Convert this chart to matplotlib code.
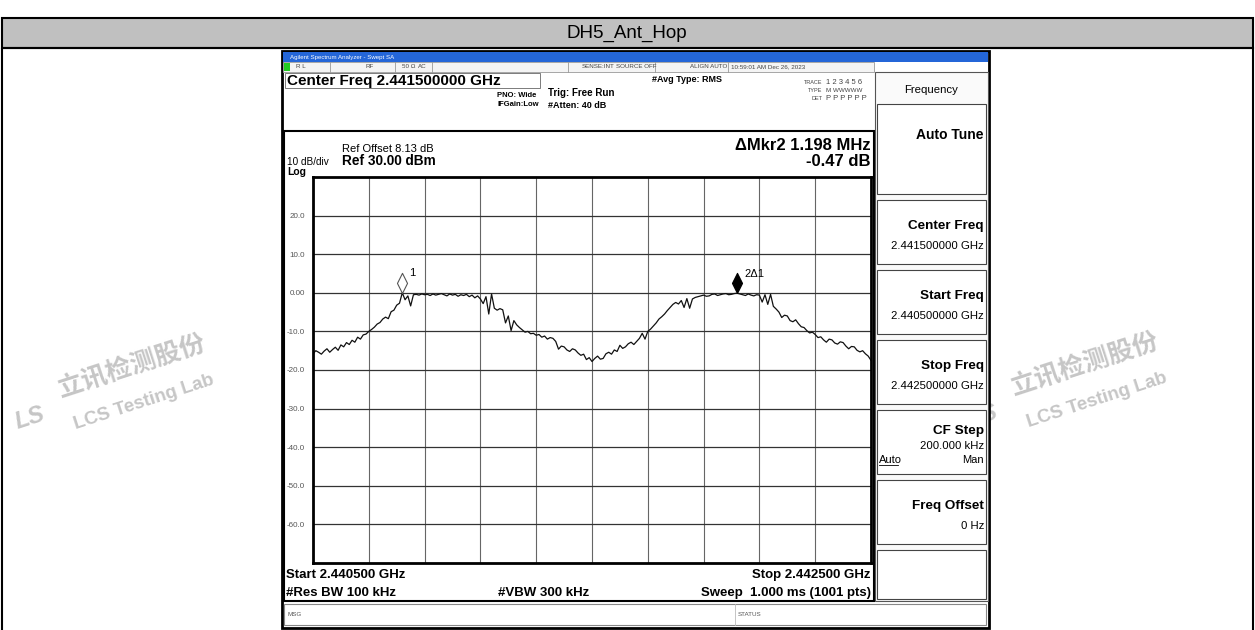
import numpy as np
import matplotlib
matplotlib.use("Agg")
import matplotlib.pyplot as plt
from matplotlib.patches import Rectangle

plt.rcParams["font.family"] = ["Liberation Sans", "DejaVu Sans"]

# spectrum analyser setup
start_mhz = 2440.5
stop_mhz = 2442.5
ref_level = 30.0
db_per_div = 10.0
y_ticks = [20, 10, 0, -10, -20, -30, -40, -50, -60]
y_tick_labels = ["20.0", "10.0", "0.00", "-10.0", "-20.0", "-30.0", "-40.0", "-50.0", "-60.0"]

# trace, one value every 0.05 division
trace_db = [
    -15.8, -15.0, -15.4, -15.9, -15.1, -14.5, -15.4, -14.7, -14.1, -14.9,
    -13.5, -14.0, -12.9, -13.4, -12.3, -12.8, -11.5, -12.0, -10.9, -10.7,
    -10.0, -9.5, -8.9, -8.1, -7.7, -6.8, -6.3, -6.7, -4.9, -4.5,
    -3.2, -2.7, 0.0, -1.8, -0.8, -3.4, -0.5, -0.4, -0.6, -0.3,
    -0.5, -0.4, -0.7, -0.3, -0.6, -0.4, -0.2, -0.5, -0.8, -0.3,
    -0.6, -0.4, -0.9, -0.5, -0.7, -0.4, -1.0, -0.6, -1.3, -0.8,
    -1.6, -2.8, -1.0, -5.5, -0.3, -4.0, -4.5, -4.1, -4.4, -7.8,
    -6.0, -9.8, -7.2, -8.3, -9.0, -9.6, -10.2, -10.0, -10.6, -10.5,
    -11.0, -10.8, -11.5, -11.2, -12.0, -11.6, -11.8, -12.6, -14.6, -13.8,
    -14.0, -14.8, -15.2, -14.5, -14.8, -15.6, -16.2, -15.9, -17.3, -16.8,
    -17.8, -17.0, -16.4, -17.2, -17.0, -15.8, -15.4, -15.9, -14.8, -15.2,
    -13.6, -14.4, -14.0, -13.2, -12.8, -13.4, -12.6, -11.8, -10.5, -12.0,
    -10.0, -9.4, -8.6, -7.8, -6.8, -6.2, -5.5, -4.6, -3.8, -3.0,
    -2.5, -2.9, -2.0, -3.8, -1.5, -4.0, -1.6, -1.2, -1.0, -0.8,
    -0.6, -0.9, -0.8, -0.4, -0.3, -0.7, -0.5, -0.3, -0.2, -0.5,
    -0.4, -0.2, -0.1, -0.3, -0.5, -0.7, -0.3, -0.6, -0.8, -0.5,
    -0.6, -2.4, -0.5, -3.0, -0.4, -3.5, -4.2, -5.0, -6.4, -5.8,
    -6.0, -7.2, -7.5, -7.0, -8.0, -8.8, -9.0, -9.8, -10.4, -10.2,
    -10.8, -11.6, -11.4, -12.2, -12.8, -12.0, -12.2, -13.0, -13.3, -12.7,
    -12.9, -13.8, -14.5, -13.9, -14.0, -14.9, -15.3, -15.0, -15.8, -16.4,
    -17.5,
]

# markers (MHz, dB)
mkr1 = (2440.82, 0.0)
mkr2 = (2442.02, -0.1)

fig = plt.figure(figsize=(12.55, 6.3), dpi=100)

# background axes in pixel coordinates for the report table and the screenshot frame
bg = fig.add_axes([0, 0, 1, 1])
bg.set_xlim(0, 1255)
bg.set_ylim(630, 0)
bg.axis("off")


def box(x0, y0, x1, y1, fc="none", ec="black", lw=1.0, z=1):
    bg.add_patch(Rectangle((x0, y0), x1 - x0, y1 - y0, fc=fc, ec=ec, lw=lw, zorder=z))


def txt(x, y, s, size=7, weight="normal", ha="left", color="black", **kw):
    bg.text(x, y, s, fontsize=size, fontweight=weight, ha=ha, va="center", color=color, **kw)


# watermarks
wm = "#c6c6c6"
for wx, wy in [(132, 372), (1085, 370)]:
    bg.text(wx, wy - 6, "立讯检测股份", fontsize=18.5, fontweight="bold", color=wm,
            rotation=18, ha="center", va="center", family=["Noto Sans CJK SC"], zorder=0.5)
    bg.text(wx + 12, wy + 30, "LCS Testing Lab", fontsize=13.5, fontweight="bold", color=wm,
            rotation=18, ha="center", va="center", zorder=0.5)
    bg.text(wx - 102, wy + 46, "LS", fontsize=17, fontweight="bold", color=wm, style="italic",
            rotation=18, ha="center", va="center", zorder=0.5)

# report table
box(2, 18, 1253, 48, fc="#c0c0c0", lw=1.5)
bg.add_patch(Rectangle((2, 48), 1251, 590, fc="none", ec="black", lw=1.5, zorder=1))
bg.text(627, 33, "DH5_Ant_Hop", fontsize=13.5, ha="center", va="center", zorder=2)

# screenshot frame
box(282, 51, 989, 628, fc="white", lw=2, z=1)
bg.add_patch(Rectangle((283, 52), 705, 10, fc="#2466d8", ec="none", zorder=2))
txt(290, 57.5, "Agilent Spectrum Analyzer - Swept SA", size=4.4, color="white", zorder=3)

# status row
box(283, 62, 874, 72, fc="#f4f4f4", ec="#999999", lw=0.6, z=2)
bg.add_patch(Rectangle((284, 63), 6, 8, fc="#22cc22", ec="none", zorder=3))
for sx in [330, 395, 432, 568, 655, 728]:
    bg.plot([sx, sx], [62, 72], color="#999999", lw=0.6, zorder=3)
for sx, s in [(296, "R L"), (365, "RF"), (402, "50 Ω"), (418, "AC"), (582, "SENSE:INT"),
              (616, "SOURCE OFF"), (690, "ALIGN AUTO"), (731, "10:59:01 AM Dec 26, 2023")]:
    txt(sx, 67, s, size=4.5, color="#444444", zorder=3)

# header
box(285, 73, 540, 88, ec="#666666", lw=0.6, z=2)
txt(287, 80.5, "Center Freq 2.441500000 GHz", size=11, weight="bold", zorder=3)
txt(497, 95.5, "PNO: Wide", size=5.5, weight="bold", zorder=3)
txt(497, 104.5, "IFGain:Low", size=5.5, weight="bold", zorder=3)
txt(548, 93, "Trig: Free Run", size=7, weight="bold", zorder=3)
txt(548, 106, "#Atten: 40 dB", size=6.5, weight="bold", zorder=3)
txt(652, 80, "#Avg Type: RMS", size=6.5, weight="bold", zorder=3)
txt(822, 82, "TRACE", size=4, ha="right", color="#444444", zorder=3)
txt(822, 90, "TYPE", size=4, ha="right", color="#444444", zorder=3)
txt(822, 98, "DET", size=4, ha="right", color="#444444", zorder=3)
txt(826, 82, "1 2 3 4 5 6", size=5.5, color="#444444", zorder=3)
txt(826, 90, "M WWWWW", size=4.5, color="#444444", zorder=3)
txt(826, 98, "P P P P P P", size=5.5, color="#444444", zorder=3)

# plot panel
box(284, 131, 874, 601, ec="black", lw=1.5, z=2)
txt(342, 149, "Ref Offset 8.13 dB", size=8, zorder=3)
txt(287, 162, "10 dB/div", size=7.2, zorder=3)
txt(287, 172, "Log", size=7.5, weight="bold", zorder=3)
txt(342, 161, "Ref 30.00 dBm", size=9.8, weight="bold", zorder=3)
txt(871, 146, "ΔMkr2 1.198 MHz", size=12, weight="bold", ha="right", zorder=3)
txt(871, 162, "-0.47 dB", size=12, weight="bold", ha="right", zorder=3)
txt(286, 575, "Start 2.440500 GHz", size=9.5, weight="bold", zorder=3)
txt(871, 575, "Stop 2.442500 GHz", size=9.5, weight="bold", ha="right", zorder=3)
txt(286, 593, "#Res BW 100 kHz", size=9.5, weight="bold", zorder=3)
txt(498, 593, "#VBW 300 kHz", size=9.5, weight="bold", zorder=3)
txt(871, 593, "Sweep  1.000 ms (1001 pts)", size=9.5, weight="bold", ha="right", zorder=3)

# message bar
box(284, 604, 986, 625, fc="white", ec="#888888", lw=0.8, z=2)
bg.plot([735, 735], [604, 625], color="#bbbbbb", lw=0.6, zorder=3)
txt(288, 614, "MSG", size=4.5, color="#555555", zorder=3)
txt(738, 614, "STATUS", size=4.5, color="#555555", zorder=3)

# soft keys
box(875, 72, 988, 601, fc="#fafafa", ec="#555555", lw=0.8, z=2)
txt(931, 90, "Frequency", size=8.2, ha="center", zorder=3)
box(877, 104, 986, 194, fc="white", ec="#444444", lw=0.8, z=3)
txt(984, 135, "Auto Tune", size=10, weight="bold", ha="right", zorder=4)
keys = ["Center Freq", "Start Freq", "Stop Freq", "CF Step", "Freq Offset", ""]
values = ["2.441500000 GHz", "2.440500000 GHz", "2.442500000 GHz", "200.000 kHz", "0 Hz", ""]
for i, (k, v) in enumerate(zip(keys, values)):
    top = 200 + i * 70
    bot = top + 64 if k else 599
    box(877, top, 986, bot, fc="white", ec="#444444", lw=0.8, z=3)
    if k == "CF Step":
        txt(984, top + 21, k, size=9.7, weight="bold", ha="right", zorder=4)
        txt(984, top + 36, v, size=8.2, ha="right", zorder=4)
    elif k:
        txt(984, top + 26, k, size=9.7, weight="bold", ha="right", zorder=4)
        txt(984, top + 46, v, size=8.2, ha="right", zorder=4)
txt(879, 460, "Auto", size=8, zorder=4)
bg.plot([879, 898], [465, 465], color="black", lw=0.6, zorder=4)
txt(984, 460, "Man", size=8, ha="right", zorder=4)

# trace graticule
ax = fig.add_axes([313 / 1255, 1 - 563 / 630, 558 / 1255, 386 / 630], zorder=5)
freqs = np.linspace(start_mhz, stop_mhz, len(trace_db))
ax.plot(freqs, trace_db, color="#111111", lw=0.9)
ax.set_xlim(start_mhz, stop_mhz)
ax.set_ylim(ref_level - 10 * db_per_div, ref_level)
ax.set_xticks(np.linspace(start_mhz, stop_mhz, 11))
ax.set_yticks(y_ticks)
ax.set_yticklabels(y_tick_labels, fontsize=5.8, color="#555555",
                   family=["Liberation Sans Narrow", "Liberation Sans"])
ax.set_xticklabels([])
ax.tick_params(length=0, pad=6)
ax.grid(True, axis="x", color="#666666", lw=0.8)
ax.grid(True, axis="y", color="#333333", lw=0.9)
for sp in ax.spines.values():
    sp.set_linewidth(2)

diamond = [(0, 0), (0.5, 1), (0, 2), (-0.5, 1), (0, 0)]
ax.plot(*mkr1, marker=diamond, markersize=29, mfc="white", mec="#555555", mew=0.8, zorder=6)
ax.plot(*mkr2, marker=diamond, markersize=29, mfc="black", mec="black", mew=0.8, zorder=6)
ax.annotate("1", mkr1, xytext=(5, 12), textcoords="offset points", fontsize=8)
ax.annotate("2Δ1", mkr2, xytext=(5, 12), textcoords="offset points", fontsize=8)

fig.savefig("out.png", dpi=100)
